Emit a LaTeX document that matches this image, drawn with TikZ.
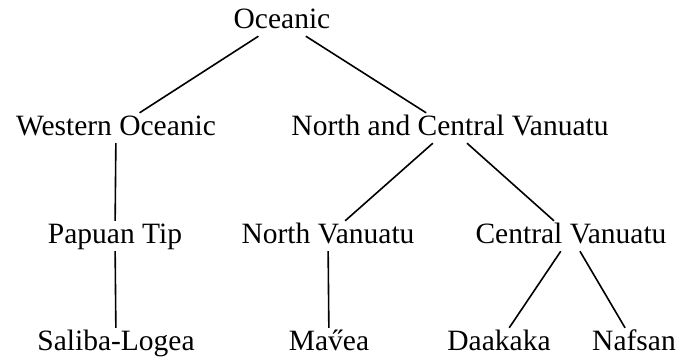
\documentclass[tikz,border=0pt]{standalone}
\usepackage{fontspec}
\setmainfont{Liberation Serif}
\begin{document}
\begin{tikzpicture}[x=1pt,y=-1pt,
  lang/.style={anchor=base,inner sep=2pt,text height=20pt,text depth=6pt,
    font=\fontsize{29.5}{32}\selectfont},
  edge/.style={draw=black,line width=1.6pt}]
\useasboundingbox (0,0) rectangle (689,360);
\node[lang] (oc) at (282,28) {Oceanic};
\node[lang] (wo) at (116,135) {Western Oceanic};
\node[lang] (ncv) at (450,135) {North and Central Vanuatu};
\node[lang] (pt) at (115,243) {Papuan Tip};
\node[lang] (nv) at (328,243) {North Vanuatu};
\node[lang] (cv) at (571,243) {Central Vanuatu};
\node[lang] (sl) at (116,350) {Saliba-Logea};
\node[lang] (mv) at (329,350) {Ma\H{v}ea};
\node[lang] (dk) at (499,350) {Daakaka};
\node[lang] (nf) at (634,350) {Nafsan};
\draw[edge] (oc) -- (wo);
\draw[edge] (oc) -- (ncv);
\draw[edge] (wo) -- (pt);
\draw[edge] (pt) -- (sl);
\draw[edge] (ncv) -- (nv);
\draw[edge] (ncv) -- (cv);
\draw[edge] (nv) -- (mv);
\draw[edge] (cv) -- (dk);
\draw[edge] (cv) -- (nf);
\end{tikzpicture}
\end{document}
